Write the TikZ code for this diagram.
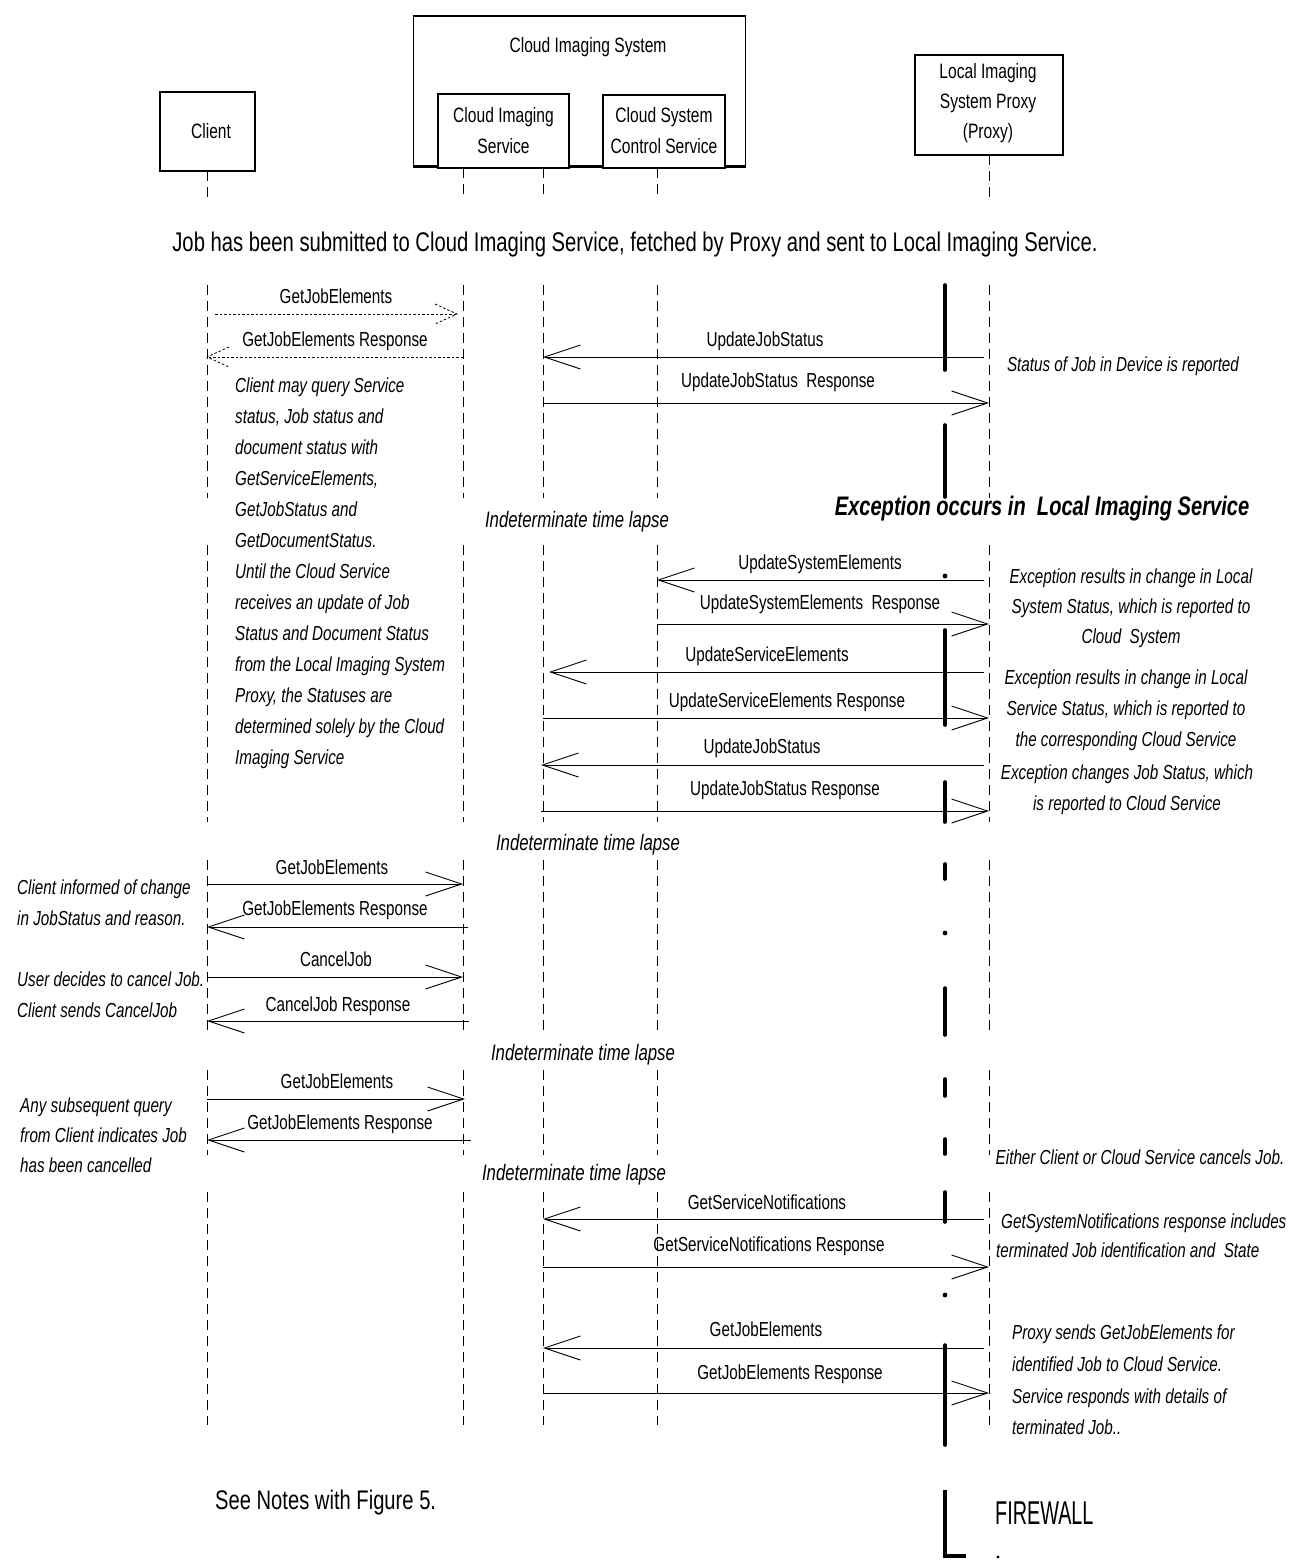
\documentclass[tikz,border=0pt]{standalone}
\usepackage{fontspec}
\setmainfont{Liberation Sans}[FakeStretch=0.75]
\newfontfamily\fwfont{Liberation Sans}[FakeStretch=0.6]
\usetikzlibrary{arrows.meta,calc}
\begin{document}
\begin{tikzpicture}[x=1pt,y=-1pt,
  life/.style={line width=0.9pt, dash pattern=on 10pt off 6pt},
  fwseg/.style={line width=3.6pt, line cap=round},
  msg/.style={line width=0.9pt, -{Straight Barb[length=36pt,width=24pt,line width=0.9pt]}},
  dotmsg/.style={line width=0.8pt, dash pattern=on 2.5pt off 2pt},
  lbl/.style={font=\fontsize{20.3}{23}\selectfont, inner sep=0pt, text height=15pt, text depth=4pt},
  note/.style={font=\fontsize{20.3}{31}\selectfont\itshape, inner sep=0pt},
  lapse/.style={font=\fontsize{22.4}{26}\selectfont\itshape, inner sep=0pt},
  boxtxt/.style={font=\fontsize{20.8}{31}\selectfont, align=center},
  box/.style={draw, line width=1.2pt, fill=white, inner sep=0pt},
]
\useasboundingbox (0,0) rectangle (1297,1560);
\fill[white] (0,0) rectangle (1297,1560);

% ---------- heads ----------
\node[box, minimum width=95pt, minimum height=79pt] (client) at (207.5,131.5) {};
\node[boxtxt] (clientt) at (211,131) {Client};
\node[box, line width=1.4pt, minimum width=332pt, minimum height=149pt, anchor=north west] (cis) at (413,16) {};
\draw[line width=2.6pt] (cis.north west) -- (cis.north east);
\draw[line width=2.6pt] (cis.south west) -- (cis.south east);
\node[boxtxt] (cist) at (588,47) {Cloud Imaging System};
\node[box, minimum width=131pt, minimum height=74pt] (cisv) at (503.5,131) {};
\node[boxtxt] (cisvt) at (503.5,130.5) {Cloud Imaging\\Service};
\node[box, minimum width=122pt, minimum height=73pt] (ctrl) at (664,131.5) {};
\node[boxtxt] (ctrlt) at (664,130.5) {Cloud System\\Control Service};
\node[box, minimum width=148pt, minimum height=100pt] (proxy) at (989,105) {};
\node[boxtxt, font=\fontsize{20.8}{30}\selectfont] (proxyt) at (988,103) {Local Imaging\\System Proxy\\(Proxy)};

% ---------- lifeline x positions ----------
\coordinate (lc) at (207,0);
\coordinate (lco) at (215,0);
\coordinate (ls1) at (463,0);
\coordinate (ls1i) at (457,0);
\coordinate (ls1o) at (469,0);
\coordinate (ls2) at (543,0);
\coordinate (lk) at (657,0);
\coordinate (lp) at (989,0);
\coordinate (lpo) at (984,0);
\coordinate (fwl) at (945,0);

\foreach \l/\t in {lc/171, ls1/168, ls2/168, lk/168, lp/155} {
  \draw[life] (\l |- 0,\t) -- (\l |- 0,200);
  \foreach \a/\b in {285/498, 545/822, 860/1035, 1070/1155, 1192/1425}
    \draw[life] (\l |- 0,\a) -- (\l |- 0,\b);
}

% ---------- firewall ----------
\foreach \a/\b in {285/370, 425/497, 630/725, 782/822, 864/879, 988/1035, 1079/1096, 1139/1154, 1192/1222, 1345/1445}
  \draw[fwseg] (fwl |- 0,\a) -- (fwl |- 0,\b);
\foreach \d in {576, 933, 1295}
  \fill (fwl |- 0,\d) circle (2.4pt);
\draw[line width=3.4pt] (fwl |- 0,1490) -- (fwl |- 0,1556) -- ++(21,0);
\fill (998,1557) circle (1.6pt);
\node[font=\fwfont\fontsize{33}{36}\selectfont, inner sep=0pt, anchor=west] (fwt) at (995,1513) {FIREWALL};

% ---------- titles ----------
\node[font=\fontsize{27}{30}\selectfont, inner sep=0pt] (title) at (635,245) {Job has been submitted to Cloud Imaging Service, fetched by Proxy and sent to Local Imaging Service.};
\node[font=\fontsize{26.8}{30}\selectfont\bfseries\itshape, inner sep=0pt] (exc) at (1042,509) {Exception occurs in\ \ Local Imaging Service};
\node[lapse] (lap1) at (577,522) {Indeterminate time lapse};
\node[lapse] (lap2) at (588,845) {Indeterminate time lapse};
\node[lapse] (lap3) at (583,1055) {Indeterminate time lapse};
\node[lapse] (lap4) at (574,1175) {Indeterminate time lapse};
\node[font=\fontsize{26.9}{30}\selectfont, inner sep=0pt, anchor=west] (see) at (215,1503) {See Notes with Figure 5.};

% ---------- dotted messages ----------
\draw[dotmsg] (lco |- 0,314) -- (ls1i |- 0,314);
\draw[dotmsg] (ls1i |- 0,314) +(-22,-10) -- (ls1i |- 0,314) -- +(-22,10);
\node[lbl] (m1) at (336,298) {GetJobElements};
\draw[dotmsg] (ls1 |- 0,357) -- (lc |- 0,357);
\draw[dotmsg] (lc |- 0,357) +(22,-10) -- (lc |- 0,357) -- +(22,10);
\node[lbl] (m2) at (335,341) {GetJobElements Response};

% ---------- first block ----------
\draw[msg] (lpo |- 0,357) -- (ls2 |- 0,357);
\node[lbl] (m3) at (765,341) {UpdateJobStatus};
\draw[msg] (ls2 |- 0,403) -- (lp |- 0,403);
\node[lbl] (m4) at (778,382) {UpdateJobStatus\ \ Response};
\node[note] (n0) at (1123,366) {Status of Job in Device is reported};

\node[note, align=left, anchor=north west] (n1) at (235,378) {Client may query Service\\status, Job status and\\document status with\\GetServiceElements,\\GetJobStatus and\\GetDocumentStatus.\\Until the Cloud Service\\receives an update of Job\\Status and Document Status\\from the Local Imaging System\\Proxy, the Statuses are\\determined solely by the Cloud\\Imaging Service};

% ---------- exception block ----------
\draw[msg] (lpo |- 0,580) -- (lk |- 0,580);
\node[lbl] (m5) at (820,564) {UpdateSystemElements};
\draw[msg] (lk |- 0,624) -- (lp |- 0,624);
\node[lbl] (m6) at (820,604) {UpdateSystemElements\ \ Response};
\draw[msg] (lpo |- 0,672) -- ($(ls2 |- 0,672)+(6,0)$);
\node[lbl] (m7) at (767,656) {UpdateServiceElements};
\draw[msg] (ls2 |- 0,718) -- (lp |- 0,718);
\node[lbl] (m8) at (787,702) {UpdateServiceElements Response};
\draw[msg] (lpo |- 0,765) -- ($(ls2 |- 0,765)+(-2,0)$);
\node[lbl] (m9) at (762,748) {UpdateJobStatus};
\draw[msg] ($(ls2 |- 0,811)+(-2,0)$) -- (lp |- 0,811);
\node[lbl] (m10) at (785,790) {UpdateJobStatus Response};

\node[note, align=center, font=\fontsize{20.3}{30}\selectfont\itshape, anchor=north] (n2) at (1131,569) {Exception results in change in Local\\System Status, which is reported to\\Cloud\ \ System};
\node[note, align=center, anchor=north] (n3) at (1126,670) {Exception results in change in Local\\Service Status, which is reported to\\the corresponding Cloud Service};
\node[note, align=center, anchor=north] (n4) at (1127,765) {Exception changes Job Status, which\\is reported to Cloud Service};

% ---------- client block ----------
\draw[msg] (lc |- 0,884) -- (ls1 |- 0,884);
\node[lbl] (m11) at (332,869) {GetJobElements};
\draw[msg] ($(ls1o |- 0,927)+(-1,0)$) -- (lc |- 0,927);
\node[lbl] (m12) at (335,910) {GetJobElements Response};
\draw[msg] (lc |- 0,977) -- (ls1 |- 0,977);
\node[lbl] (m13) at (336,961) {CancelJob};
\draw[msg] (ls1o |- 0,1021) -- (lc |- 0,1021);
\node[lbl] (m14) at (338,1006) {CancelJob Response};
\draw[msg] (lc |- 0,1099) -- ($(ls1 |- 0,1099)+(2,0)$);
\node[lbl] (m15) at (337,1083) {GetJobElements};
\draw[msg] ($(ls1o |- 0,1140)+(2,0)$) -- (lc |- 0,1140);
\node[lbl] (m16) at (340,1124) {GetJobElements Response};

\node[note, align=left, anchor=north west] (n5) at (17,880) {Client informed of change\\in JobStatus and reason.};
\node[note, align=left, anchor=north west] (n6) at (17,972) {User decides to cancel Job.\\Client sends CancelJob};
\node[note, align=left, anchor=north west, font=\fontsize{20.3}{30}\selectfont\itshape] (n7) at (20,1098) {Any subsequent query\\from Client indicates Job\\has been cancelled};

% ---------- cancellation block ----------
\node[note] (n8) at (1140,1157) {Either Client or Cloud Service cancels Job.};
\draw[msg] (lpo |- 0,1219) -- (ls2 |- 0,1219);
\node[lbl] (m17) at (767,1204) {GetServiceNotifications};
\draw[msg] (ls2 |- 0,1267) -- (lp |- 0,1267);
\node[lbl] (m18) at (769,1246) {GetServiceNotifications Response};
\draw[msg] (lpo |- 0,1348) -- (ls2 |- 0,1348);
\node[lbl] (m19) at (766,1331) {GetJobElements};
\draw[msg] (ls2 |- 0,1393) -- (lp |- 0,1393);
\node[lbl] (m20) at (790,1374) {GetJobElements Response};

\node[note, align=left, anchor=north west, font=\fontsize{20.3}{29}\selectfont\itshape] (n9) at (996,1214) {\hspace{5pt}GetSystemNotifications response includes\\terminated Job identification and\ \ State};
\node[note, align=left, anchor=north west, font=\fontsize{20.3}{31.6}\selectfont\itshape] (n10) at (1012,1325) {Proxy sends GetJobElements for\\identified Job to Cloud Service.\\Service responds with details of\\terminated Job..};
\end{tikzpicture}
\end{document}
